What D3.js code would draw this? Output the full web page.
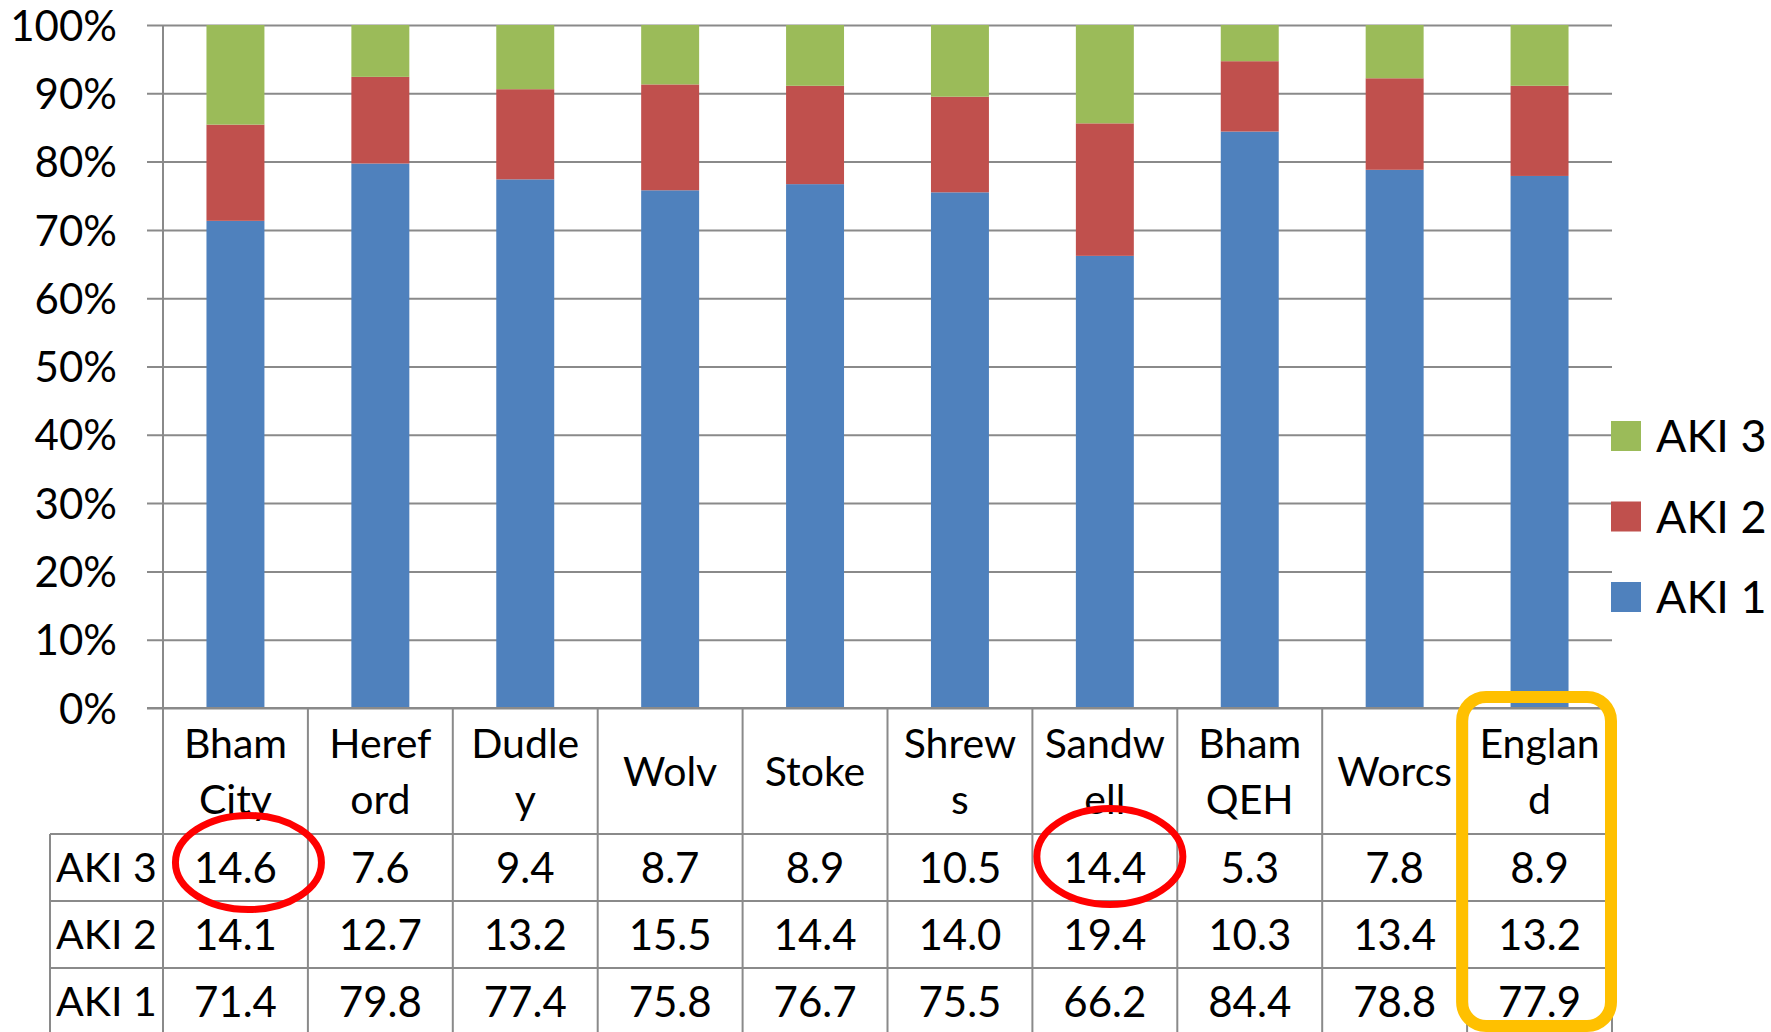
<!DOCTYPE html>
<html><head><meta charset="utf-8">
<script src="https://cdn.jsdelivr.net/npm/d3@7"></script>
<style>
html,body{margin:0;padding:0;background:#fff;}
svg{display:block;}
text{font-family:Lato,"Open Sans",sans-serif;fill:#000;}
</style></head>
<body>
<svg id="chart" width="1771" height="1032"></svg>
<script>
// ---- data ----
const categories = ["Bham City","Hereford","Dudley","Wolv","Stoke","Shrews","Sandwell","Bham QEH","Worcs","England"];
const categoryLines = [["Bham","City"],["Heref","ord"],["Dudle","y"],["Wolv"],["Stoke"],["Shrew","s"],["Sandw","ell"],["Bham","QEH"],["Worcs"],["Englan","d"]];
const seriesNames = ["AKI 1","AKI 2","AKI 3"];
const aki1 = [71.4,79.8,77.4,75.8,76.7,75.5,66.2,84.4,78.8,77.9];
const aki2 = [14.1,12.7,13.2,15.5,14.4,14.0,19.4,10.3,13.4,13.2];
const aki3 = [14.6,7.6,9.4,8.7,8.9,10.5,14.4,5.3,7.8,8.9];
const yTicks = [0,0.1,0.2,0.3,0.4,0.5,0.6,0.7,0.8,0.9,1.0];
const seriesColors = ["#4F81BD","#C0504D","#9BBB59"];
const highlightCells = ["Bham City","Sandwell"];
const highlightColumn = "England";

// ---- layout ----
const W = 1771, H = 1032;
const L = 163, R = 1612, T = 25, B = 708;
const tableLeft = 50, headerH = 126, rowH = 67;
const gridColor = "#8a8a8a";

const svg = d3.select("#chart");
const rows = categories.map((c,i)=>({cat:c, "AKI 1":aki1[i], "AKI 2":aki2[i], "AKI 3":aki3[i]}));
const stack = d3.stack().keys(seriesNames).offset(d3.stackOffsetExpand)(rows);

const x = d3.scaleBand().domain(categories).range([L,R]).paddingInner(0.6).paddingOuter(0.3);
const y = d3.scaleLinear().domain([0,1]).range([B,T]);
const step = x.step();
const colLeft = c => L + categories.indexOf(c)*step;
const colCenter = c => colLeft(c) + step/2;

// gridlines
const yAxis = d3.axisLeft(y).tickValues(yTicks).tickFormat(d3.format(".0%")).tickSize(-(R-L)).tickSizeOuter(0).tickPadding(0);
const gAxis = svg.append("g").attr("transform",`translate(${L},0)`).call(yAxis);
gAxis.select(".domain").remove();
gAxis.selectAll(".tick line").attr("stroke",gridColor).attr("stroke-width",2).attr("x1",-16);
gAxis.selectAll(".tick text").attr("x",-46).attr("dy","0.36em").attr("font-size",42).attr("text-anchor","end").attr("fill","#000");

// bars
svg.append("g").selectAll("g").data(stack).join("g")
  .attr("fill",(d,i)=>seriesColors[i])
  .selectAll("rect").data(d=>d).join("rect")
  .attr("x",d=>x(d.data.cat)).attr("width",x.bandwidth())
  .attr("y",d=>y(d[1])).attr("height",d=>y(d[0])-y(d[1]));

// table
const tableRows = [["AKI 3",aki3],["AKI 2",aki2],["AKI 1",aki1]];
const tg = svg.append("g");
const line = (x1,y1,x2,y2)=>tg.append("line").attr("x1",x1).attr("y1",y1).attr("x2",x2).attr("y2",y2).attr("stroke",gridColor).attr("stroke-width",2);
line(L,T,L,H);
categories.forEach((c,i)=>line(colLeft(c)+step,B,colLeft(c)+step,H));
line(tableLeft,B+headerH,tableLeft,H);
line(L-16,B,R,B);
tableRows.forEach((r,i)=>line(tableLeft,B+headerH+i*rowH,R,B+headerH+i*rowH));

// header labels
categories.forEach((c,i)=>{
  const lines = categoryLines[i];
  const cy = B + headerH/2;
  const gap = 56;
  lines.forEach((t,j)=>{
    tg.append("text").attr("x",colCenter(c)).attr("y",cy + (j-(lines.length-1)/2)*gap)
      .attr("dy","0.36em").attr("text-anchor","middle").attr("font-size",41).text(t);
  });
});
// row labels and values
const fmt = d3.format(".1f");
tableRows.forEach(([name,vals],r)=>{
  const cy = B+headerH+r*rowH+rowH/2;
  tg.append("text").attr("x",tableLeft+6).attr("y",cy).attr("dy","0.36em").attr("font-size",41).text(name);
  categories.forEach((c,i)=>{
    tg.append("text").attr("x",colCenter(c)).attr("y",cy).attr("dy","0.36em")
      .attr("text-anchor","middle").attr("font-size",42).text(fmt(vals[i]));
  });
});

// legend
const lg = svg.append("g");
[2,1,0].forEach((si,k)=>{
  const cy = 436 + k*80.5;
  lg.append("rect").attr("x",1611).attr("y",cy-15).attr("width",30).attr("height",30).attr("fill",seriesColors[si]);
  lg.append("text").attr("x",1656).attr("y",cy).attr("dy","0.36em").attr("font-size",45).text(seriesNames[si]);
});

// annotations
const ann = svg.append("g");
const rowCy = B+headerH+rowH/2;
ann.append("ellipse").attr("cx",colCenter(highlightCells[0])+13).attr("cy",rowCy-5).attr("rx",73).attr("ry",47)
  .attr("fill","none").attr("stroke","#FF0000").attr("stroke-width",7);
ann.append("ellipse").attr("cx",colCenter(highlightCells[1])+5).attr("cy",rowCy-11).attr("rx",73).attr("ry",48)
  .attr("fill","none").attr("stroke","#FF0000").attr("stroke-width",7);
ann.append("rect").attr("x",colLeft(highlightColumn)-5).attr("y",B-11).attr("width",step+4).attr("height",H-B+5)
  .attr("rx",24).attr("ry",24).attr("fill","none").attr("stroke","#FFC000").attr("stroke-width",12);
</script>
</body></html>
